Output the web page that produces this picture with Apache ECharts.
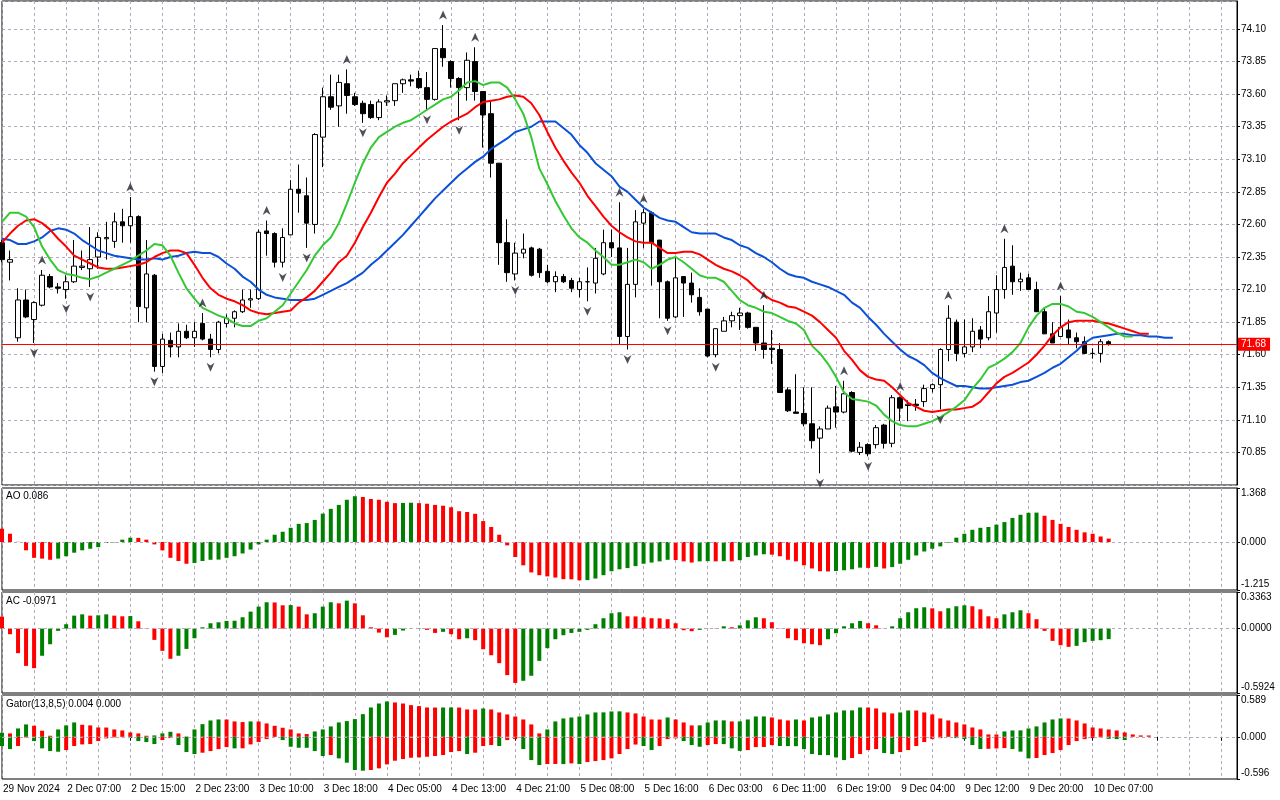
<!DOCTYPE html>
<html>
<head>
<meta charset="utf-8">
<script src="https://cdn.jsdelivr.net/npm/echarts/dist/echarts.min.js"></script>
<style>
html, body { margin: 0; padding: 0; background: #fff; }
#chart { width: 1280px; height: 800px; }
</style>
</head>
<body>
<div id="chart"></div>
<script>
var chartDom = document.getElementById('chart');
var myChart = echarts.init(chartDom);
var option;

// bottom time labels, one every 8 bars
var tickLabels = ['29 Nov 2024','2 Dec 07:00','2 Dec 15:00','2 Dec 23:00','3 Dec 10:00','3 Dec 18:00',
  '4 Dec 05:00','4 Dec 13:00','4 Dec 21:00','5 Dec 08:00','5 Dec 16:00','6 Dec 03:00','6 Dec 11:00',
  '6 Dec 19:00','9 Dec 04:00','9 Dec 12:00','9 Dec 20:00','10 Dec 07:00'];

// [open, close, low, high]
var candles = [
[72.46,72.33,72.31,72.48],[72.31,72.33,72.17,72.40],[71.73,72.02,71.70,72.11],[72.02,71.89,71.88,72.10],
[71.87,72.00,71.69,72.01],[71.98,72.21,71.97,72.25],[72.20,72.12,72.11,72.22],[72.12,72.11,72.07,72.15],
[72.10,72.16,72.03,72.21],[72.16,72.28,72.15,72.48],[72.27,72.28,72.25,72.40],[72.26,72.33,72.12,72.58],
[72.35,72.50,72.26,72.54],[72.49,72.50,72.33,72.62],[72.47,72.62,72.42,72.69],[72.62,72.59,72.46,72.72],
[72.59,72.66,72.46,72.81],[72.66,71.97,71.85,72.67],[71.96,72.22,71.85,72.48],[72.21,71.51,71.47,72.22],
[71.51,71.72,71.46,71.76],[71.71,71.66,71.58,71.77],[71.66,71.78,71.58,71.84],[71.78,71.73,71.72,71.83],
[71.73,71.78,71.66,71.85],[71.84,71.72,71.71,71.92],[71.72,71.64,71.58,71.76],[71.64,71.85,71.61,71.86],
[71.84,71.88,71.81,71.91],[71.88,71.93,71.81,71.94],[71.93,72.02,71.92,72.10],[72.02,72.03,71.96,72.10],
[72.03,72.54,72.02,72.56],[72.55,72.53,72.36,72.63],[72.53,72.31,72.27,72.54],[72.31,72.50,72.27,72.57],
[72.52,72.87,72.52,72.94],[72.87,72.84,72.69,73.06],[72.82,72.61,72.42,72.96],[72.60,73.29,72.53,73.30],
[73.27,73.58,73.04,73.65],[73.58,73.50,73.48,73.75],[73.51,73.69,73.35,73.75],[73.68,73.59,73.45,73.79],
[73.58,73.52,73.51,73.61],[73.53,73.45,73.38,73.55],[73.52,73.42,73.41,73.55],[73.42,73.54,73.40,73.56],
[73.54,73.55,73.51,73.59],[73.55,73.68,73.51,73.68],[73.68,73.71,73.61,73.72],[73.71,73.70,73.66,73.75],
[73.72,73.65,73.64,73.78],[73.65,73.56,73.48,73.77],[73.56,73.95,73.55,73.95],[73.95,73.88,73.81,74.13],
[73.85,73.72,73.65,73.86],[73.72,73.65,73.40,73.73],[73.65,73.86,73.55,73.92],[73.85,73.62,73.55,73.96],
[73.62,73.44,73.19,73.62],[73.45,73.07,72.96,73.55],[73.07,72.46,72.29,73.07],[72.46,72.23,72.16,72.64],
[72.22,72.38,72.17,72.46],[72.38,72.41,72.34,72.53],[72.42,72.21,72.20,72.43],[72.41,72.23,72.19,72.42],
[72.24,72.16,72.15,72.29],[72.16,72.20,72.08,72.24],[72.20,72.16,72.15,72.22],[72.17,72.11,72.08,72.19],
[72.10,72.16,72.04,72.19],[72.16,72.16,72.01,72.27],[72.15,72.34,72.07,72.42],[72.22,72.46,72.21,72.56],
[72.46,72.42,72.35,72.56],[72.42,71.74,71.68,72.77],[71.74,72.14,71.64,72.42],[72.14,72.62,72.04,72.71],
[72.61,72.69,72.42,72.72],[72.69,72.46,72.13,72.70],[72.48,72.16,71.88,72.48],[72.16,71.88,71.86,72.17],
[71.89,72.19,71.88,72.35],[72.20,72.15,71.89,72.20],[72.15,72.06,72.00,72.23],[72.04,71.93,71.90,72.11],
[71.95,71.59,71.58,71.95],[71.60,71.80,71.58,71.80],[71.78,71.86,71.78,71.89],[71.86,71.90,71.81,71.93],
[71.90,71.92,71.79,71.96],[71.92,71.81,71.80,71.93],[71.81,71.69,71.63,71.81],[71.69,71.64,71.57,71.98],
[71.65,71.64,71.53,71.79],[71.64,71.31,71.31,71.69],[71.33,71.17,71.16,71.35],[71.16,71.15,71.15,71.45],
[71.15,71.07,71.05,71.35],[71.07,70.94,70.88,71.35],[70.96,71.03,70.69,71.05],[71.03,71.19,71.03,71.21],
[71.20,71.16,71.04,71.36],[71.16,71.30,71.15,71.40],[71.31,70.86,70.85,71.32],[70.85,70.89,70.83,70.93],
[70.91,70.84,70.82,70.92],[70.91,71.04,70.88,71.06],[71.06,70.92,70.88,71.07],[70.92,71.27,70.89,71.29],
[71.27,71.19,71.09,71.28],[71.21,71.22,71.09,71.25],[71.22,71.21,71.17,71.26],[71.24,71.34,71.20,71.37],
[71.34,71.37,71.31,71.38],[71.37,71.64,71.18,71.65],[71.64,71.88,71.55,71.98],[71.85,71.61,71.55,71.87],
[71.61,71.66,71.58,71.87],[71.66,71.78,71.62,71.88],[71.79,71.72,71.65,71.82],[71.73,71.93,71.71,72.05],
[71.92,72.10,71.77,72.21],[72.10,72.27,72.03,72.49],[72.28,72.16,72.06,72.44],[72.16,72.18,72.09,72.23],
[72.19,72.10,72.10,72.22],[72.10,71.93,71.93,72.16],[71.93,71.76,71.76,71.96],[71.76,71.69,71.69,71.85],
[71.74,71.81,71.74,72.05],[71.79,71.73,71.68,71.87],[71.73,71.70,71.65,71.77],[71.70,71.61,71.61,71.74],
[71.61,71.61,71.57,71.65],[71.61,71.70,71.54,71.72],[71.70,71.68,71.67,71.71]
];
var lastPrice = 71.68;

// alligator lines (already shifted forward as drawn)
var jaw = [72.49,72.48,72.45,72.45,72.47,72.50,72.55,72.57,72.56,72.53,
72.48,72.44,72.40,72.38,72.36,72.35,72.34,72.33,72.33,72.34,
72.33,72.35,72.36,72.38,72.39,72.38,72.38,72.35,72.30,72.26,
72.20,72.16,72.10,72.06,72.04,72.03,72.02,72.02,72.02,72.03,
72.06,72.09,72.12,72.15,72.19,72.23,72.29,72.34,72.40,72.46,
72.52,72.59,72.66,72.73,72.80,72.86,72.92,72.98,73.03,73.08,
73.12,73.18,73.22,73.26,73.31,73.33,73.35,73.39,73.39,73.39,
73.34,73.29,73.21,73.15,73.07,73.02,72.97,72.89,72.85,72.79,
72.73,72.69,72.65,72.63,72.62,72.58,72.54,72.53,72.53,72.53,
72.50,72.48,72.44,72.42,72.38,72.35,72.31,72.26,72.22,72.20,
72.19,72.16,72.14,72.12,72.09,72.06,72.00,71.96,71.89,71.83,
71.76,71.70,71.64,71.59,71.56,71.52,71.46,71.42,71.39,71.36,
71.36,71.35,71.34,71.34,71.35,71.36,71.37,71.39,71.40,71.43,
71.46,71.50,71.53,71.58,71.63,71.69,71.73,71.74,71.75,71.76,
71.76,71.75,71.75,71.74,71.74,71.73,71.73];
var teeth = [72.46,72.53,72.59,72.63,72.64,72.61,72.56,72.49,72.43,72.36,
72.33,72.30,72.27,72.26,72.26,72.27,72.28,72.29,72.31,72.35,
72.38,72.40,72.40,72.38,72.29,72.19,72.11,72.06,72.03,72.01,
71.98,71.94,71.92,71.91,71.92,71.93,71.94,72.00,72.04,72.09,
72.16,72.23,72.31,72.36,72.46,72.58,72.69,72.81,72.92,72.99,
73.07,73.13,73.19,73.25,73.30,73.35,73.39,73.42,73.45,73.50,
73.54,73.55,73.56,73.58,73.59,73.58,73.53,73.44,73.31,73.19,
73.09,73.00,72.92,72.82,72.74,72.66,72.59,72.54,72.50,72.47,
72.46,72.46,72.42,72.38,72.38,72.39,72.39,72.37,72.33,72.29,
72.26,72.24,72.21,72.17,72.11,72.06,72.02,72.00,71.97,71.96,
71.93,71.90,71.85,71.79,71.73,71.63,71.56,71.48,71.43,71.41,
71.40,71.35,71.29,71.23,71.20,71.17,71.16,71.17,71.18,71.18,
71.19,71.20,71.24,71.31,71.38,71.43,71.46,71.50,71.54,71.60,
71.67,71.75,71.81,71.85,71.86,71.86,71.86,71.85,71.84,71.82,
71.80,71.78,71.76,71.76];
var lips = [72.62,72.69,72.69,72.66,72.58,72.43,72.33,72.25,72.22,72.21,
72.19,72.18,72.20,72.23,72.26,72.29,72.32,72.36,72.40,72.45,
72.44,72.36,72.23,72.11,72.03,71.96,71.93,71.90,71.88,71.84,
71.82,71.82,71.86,71.88,71.93,71.98,72.07,72.16,72.25,72.36,
72.44,72.50,72.61,72.76,72.92,73.07,73.19,73.27,73.31,73.35,
73.38,73.40,73.44,73.48,73.52,73.56,73.58,73.63,73.69,73.70,
73.67,73.69,73.69,73.65,73.56,73.45,73.27,73.03,72.91,72.78,
72.67,72.57,72.50,72.46,72.40,72.35,72.29,72.29,72.31,72.33,
72.31,72.26,72.29,72.33,72.35,72.31,72.26,72.21,72.19,72.19,
72.16,72.09,72.02,71.98,71.96,71.93,71.92,71.89,71.86,71.84,
71.79,71.67,71.61,71.53,71.43,71.31,71.26,71.25,71.24,71.21,
71.14,71.09,71.06,71.05,71.05,71.07,71.09,71.12,71.16,71.20,
71.25,71.34,71.41,71.50,71.53,71.57,71.62,71.69,71.81,71.90,
71.96,71.99,71.99,71.97,71.93,71.92,71.89,71.85,71.81,71.77,
71.74,71.74];

// fractal bars (index into candles)
var fractalUp = [5,16,25,33,43,55,59,77,80,95,105,112,118,125,132];
var fractalDown = [4,8,11,19,26,35,38,45,53,57,64,73,78,83,89,102,108,117];

var aoValues = [0.337,0.21,0.005,-0.21,-0.40,-0.42,-0.45,-0.42,-0.36,-0.27,
-0.21,-0.17,-0.13,-0.025,-0.01,0.06,0.11,0.105,0.06,-0.06,
-0.21,-0.40,-0.48,-0.55,-0.53,-0.48,-0.45,-0.445,-0.40,-0.36,
-0.29,-0.19,-0.06,0.06,0.185,0.26,0.36,0.46,0.48,0.56,
0.72,0.84,0.94,1.07,1.16,1.14,1.09,1.07,1.02,0.985,
0.99,0.995,0.985,0.97,0.94,0.92,0.88,0.78,0.76,0.715,
0.53,0.38,0.185,-0.085,-0.38,-0.59,-0.77,-0.84,-0.87,-0.90,
-0.94,-0.945,-0.97,-0.965,-0.925,-0.84,-0.74,-0.69,-0.66,-0.61,
-0.55,-0.52,-0.49,-0.45,-0.455,-0.49,-0.52,-0.49,-0.485,-0.49,
-0.485,-0.49,-0.46,-0.38,-0.34,-0.31,-0.32,-0.36,-0.45,-0.49,
-0.59,-0.67,-0.74,-0.745,-0.735,-0.715,-0.69,-0.65,-0.655,-0.63,
-0.67,-0.635,-0.55,-0.45,-0.34,-0.24,-0.17,-0.11,-0.015,0.11,
0.21,0.31,0.36,0.38,0.44,0.505,0.61,0.69,0.74,0.745,
0.665,0.56,0.46,0.38,0.31,0.245,0.21,0.14,0.086];

var acValues = [0.11,-0.052,-0.226,-0.343,-0.364,-0.25,-0.144,-0.021,0.04,0.119,
0.131,0.119,0.122,0.131,0.119,0.113,0.115,0.067,-0.003,-0.104,
-0.205,-0.278,-0.25,-0.187,-0.089,0.012,0.049,0.058,0.07,0.072,
0.104,0.156,0.202,0.242,0.24,0.214,0.216,0.202,0.131,0.141,
0.202,0.242,0.232,0.257,0.232,0.122,0.012,-0.037,-0.08,-0.058,
-0.018,-0.003,0.003,-0.012,-0.04,-0.03,-0.052,-0.098,-0.089,-0.107,
-0.19,-0.245,-0.318,-0.428,-0.50,-0.48,-0.434,-0.297,-0.18,-0.098,
-0.061,-0.04,-0.03,-0.012,0.04,0.095,0.141,0.15,0.113,0.112,
0.104,0.095,0.094,0.086,0.049,-0.015,-0.024,-0.012,0.001,-0.003,
0.021,0.012,0.03,0.076,0.104,0.095,0.058,-0.002,-0.089,-0.107,
-0.135,-0.144,-0.153,-0.098,-0.043,0.021,0.049,0.07,0.049,0.03,
0.002,0.021,0.095,0.15,0.187,0.196,0.186,0.159,0.187,0.205,
0.214,0.205,0.177,0.113,0.095,0.131,0.15,0.168,0.141,0.086,
-0.021,-0.113,-0.153,-0.168,-0.159,-0.125,-0.113,-0.107,-0.097];

var gatorUp = [0.056,0.047,0.117,0.174,0.155,0.085,0.014,0.103,0.16,0.202,
0.169,0.16,0.131,0.13,0.103,0.089,0.061,0.047,0.014,0.019,
0.047,0.07,0.047,0.003,0.103,0.178,0.23,0.244,0.243,0.216,
0.207,0.216,0.215,0.188,0.155,0.127,0.103,0.047,0.038,0.075,
0.103,0.146,0.202,0.221,0.249,0.319,0.413,0.469,0.498,0.484,
0.469,0.446,0.432,0.413,0.412,0.413,0.414,0.412,0.385,0.384,
0.399,0.385,0.343,0.315,0.286,0.244,0.174,0.047,0.103,0.216,
0.258,0.272,0.286,0.315,0.343,0.344,0.357,0.358,0.343,0.329,
0.286,0.244,0.243,0.272,0.244,0.202,0.16,0.161,0.202,0.23,
0.231,0.216,0.217,0.244,0.286,0.287,0.272,0.244,0.23,0.244,
0.23,0.272,0.286,0.315,0.343,0.371,0.372,0.413,0.412,0.399,
0.343,0.329,0.343,0.371,0.37,0.343,0.315,0.258,0.23,0.202,
0.174,0.131,0.103,0.033,0.032,0.075,0.089,0.09,0.117,0.146,
0.202,0.244,0.258,0.257,0.23,0.188,0.131,0.117,0.103,0.089,
0.061,0.033,0.019,0.018];

var gatorDown = [-0.131,-0.174,-0.131,-0.01,-0.061,-0.164,-0.202,-0.211,-0.188,-0.131,
-0.108,-0.103,-0.061,-0.023,-0.009,-0.005,-0.019,-0.061,-0.075,-0.103,
-0.047,-0.019,-0.117,-0.216,-0.244,-0.225,-0.202,-0.174,-0.146,-0.164,
-0.163,-0.108,-0.075,-0.033,-0.003,-0.047,-0.141,-0.155,-0.156,-0.202,
-0.272,-0.258,-0.305,-0.366,-0.469,-0.479,-0.469,-0.446,-0.39,-0.338,
-0.315,-0.296,-0.291,-0.282,-0.272,-0.258,-0.216,-0.202,-0.244,-0.225,
-0.131,-0.117,-0.131,-0.047,-0.033,-0.174,-0.329,-0.399,-0.385,-0.384,
-0.386,-0.376,-0.385,-0.357,-0.343,-0.329,-0.305,-0.244,-0.174,-0.11,
-0.131,-0.188,-0.131,-0.033,-0.023,-0.061,-0.117,-0.141,-0.117,-0.103,
-0.104,-0.164,-0.2,-0.188,-0.146,-0.145,-0.117,-0.131,-0.132,-0.133,
-0.174,-0.244,-0.258,-0.259,-0.291,-0.329,-0.3,-0.244,-0.188,-0.174,
-0.23,-0.244,-0.216,-0.188,-0.131,-0.075,-0.033,-0.019,-0.004,-0.019,
-0.033,-0.117,-0.174,-0.17,-0.165,-0.16,-0.174,-0.21,-0.305,-0.3,
-0.258,-0.23,-0.188,-0.117,-0.061,-0.033,-0.019,-0.009,-0.03,-0.033,
-0.047];

var GREEN = '#008000', RED = '#ff0000';
var GRIDCOL = '#b4a8bc';
var FONT = "'Liberation Sans', Arial, sans-serif";
var FS = 10;
var NCAT = 155;

var cats = [];
for (var i = 0; i < NCAT; i++) {
  cats.push(i % 8 === 0 && tickLabels[i / 8] ? tickLabels[i / 8] : '');
}

// colour each bar against the previous one (MT5 style)
function colorBars(arr, useAbs, firstColor) {
  var out = [];
  for (var i = 0; i < arr.length; i++) {
    var c = firstColor;
    if (i > 0) {
      var a = useAbs ? Math.abs(arr[i]) : arr[i];
      var b = useAbs ? Math.abs(arr[i - 1]) : arr[i - 1];
      c = a > b ? GREEN : RED;
    }
    out.push({ value: arr[i], itemStyle: { color: c } });
  }
  return out;
}

var upData = fractalUp.map(function (k) { return [k, candles[k][3]]; });
var downData = fractalDown.map(function (k) { return [k, candles[k][2]]; });

var grids = [
  { left: 2, right: 43, top: 1, height: 484 },
  { left: 2, right: 43, top: 488, height: 102 },
  { left: 2, right: 43, top: 592, height: 101 },
  { left: 2, right: 43, top: 695, height: 84 }
].map(function (g) {
  g.show = true; g.borderColor = '#000'; g.borderWidth = 1; g.backgroundColor = 'transparent';
  return g;
});

function xAx(idx) {
  var last = idx === 3;
  return {
    type: 'category', gridIndex: idx, data: cats, boundaryGap: false,
    axisLine: { show: false },
    axisTick: { show: last, interval: 7, length: 4, lineStyle: { color: '#000' } },
    axisLabel: {
      show: last, interval: 7, align: 'left', margin: 5, padding: [0, 0, 0, 1],
      fontSize: FS, fontFamily: FONT, color: '#000'
    },
    splitLine: { show: true, interval: 3, lineStyle: { color: GRIDCOL, type: [3, 3], width: 1 } }
  };
}

function subY(idx, min, max, minTxt, maxTxt, zeroTxt) {
  return {
    type: 'value', gridIndex: idx, position: 'right', min: min, max: max,
    axisLine: { show: true, lineStyle: { color: '#000' } },
    axisTick: { show: true, length: 3, customValues: [min, 0, max], lineStyle: { color: '#000' } },
    axisLabel: {
      customValues: [min, 0, max], margin: 4, fontSize: FS, fontFamily: FONT, color: '#000',
      formatter: function (v) {
        if (v === max) return '{t|' + maxTxt + '}';
        if (v === min) return '{b|' + minTxt + '}';
        return zeroTxt;
      },
      rich: {
        t: { padding: [11, 0, 0, 0], fontSize: FS, fontFamily: FONT, color: '#000' },
        b: { padding: [0, 0, 11, 0], fontSize: FS, fontFamily: FONT, color: '#000' }
      }
    },
    splitLine: { show: false }
  };
}

var zeroLine = {
  silent: true, symbol: ['none', 'none'], label: { show: false },
  lineStyle: { color: GRIDCOL, type: [3, 3], width: 1 },
  data: [{ yAxis: 0 }]
};

function paneTitle(text, top) {
  return {
    text: text, left: 6, top: top, padding: 0,
    textStyle: { fontSize: FS, fontWeight: 'normal', fontFamily: FONT, color: '#000' }
  };
}

option = {
  animation: false,
  backgroundColor: '#fff',
  title: [
    paneTitle('AO 0.086', 491),
    paneTitle('AC -0.0971', 596),
    paneTitle('Gator(13,8,5) 0.004 0.000', 699)
  ],
  grid: grids,
  xAxis: [xAx(0), xAx(1), xAx(2), xAx(3)],
  yAxis: [
    {
      type: 'value', gridIndex: 0, position: 'right', min: 70.60, max: 74.315, interval: 0.25,
      axisLine: { show: true, lineStyle: { color: '#000' } },
      axisTick: { show: true, length: 3, lineStyle: { color: '#000' } },
      axisLabel: {
        showMinLabel: false, showMaxLabel: false, margin: 4,
        fontSize: FS, fontFamily: FONT, color: '#000',
        formatter: function (v) { return v.toFixed(2); }
      },
      splitLine: { show: true, lineStyle: { color: GRIDCOL, type: [3, 3], width: 1 } }
    },
    subY(1, -1.215, 1.368, '-1.215', '1.368', '0.000'),
    subY(2, -0.5924, 0.3363, '-0.5924', '0.3363', '0.0000'),
    subY(3, -0.596, 0.589, '-0.596', '0.589', '0.000')
  ],
  series: [
    {
      type: 'candlestick', xAxisIndex: 0, yAxisIndex: 0, data: candles, barWidth: 5,
      itemStyle: { color: '#fff', color0: '#000', borderColor: '#000', borderColor0: '#000', borderWidth: 1 },
      markLine: {
        silent: true, symbol: ['none', 'none'],
        lineStyle: { color: RED, type: 'solid', width: 1 },
        label: {
          show: true, position: 'end', distance: 1, formatter: lastPrice.toFixed(2),
          backgroundColor: RED, color: '#fff', padding: [2, 4, 1, 3],
          fontSize: FS, fontFamily: FONT
        },
        data: [{ yAxis: lastPrice }]
      },
      z: 3
    },
    { name: 'Jaw', type: 'line', xAxisIndex: 0, yAxisIndex: 0, data: jaw, symbol: 'none',
      lineStyle: { color: '#0a50d8', width: 2 }, z: 4 },
    { name: 'Teeth', type: 'line', xAxisIndex: 0, yAxisIndex: 0, data: teeth, symbol: 'none',
      lineStyle: { color: '#ff0000', width: 2 }, z: 4 },
    { name: 'Lips', type: 'line', xAxisIndex: 0, yAxisIndex: 0, data: lips, symbol: 'none',
      lineStyle: { color: '#34c834', width: 2 }, z: 4 },
    { type: 'scatter', xAxisIndex: 0, yAxisIndex: 0, data: upData,
      symbol: 'path://M5,0 L10,10 L5,7 L0,10 Z', symbolSize: [8, 9], symbolOffset: [0, -10],
      itemStyle: { color: '#23232f' }, z: 5 },
    { type: 'scatter', xAxisIndex: 0, yAxisIndex: 0, data: downData,
      symbol: 'path://M0,0 L5,3 L10,0 L5,10 Z', symbolSize: [8, 9], symbolOffset: [0, 10],
      itemStyle: { color: '#23232f' }, z: 5 },
    { type: 'bar', xAxisIndex: 1, yAxisIndex: 1, data: colorBars(aoValues, false, RED),
      barWidth: 4, markLine: zeroLine },
    { type: 'bar', xAxisIndex: 2, yAxisIndex: 2, data: colorBars(acValues, false, RED),
      barWidth: 4, markLine: zeroLine },
    { type: 'bar', xAxisIndex: 3, yAxisIndex: 3, stack: 'gator', data: colorBars(gatorUp, true, GREEN),
      barWidth: 4, markLine: zeroLine },
    { type: 'bar', xAxisIndex: 3, yAxisIndex: 3, stack: 'gator', data: colorBars(gatorDown, true, GREEN),
      barWidth: 4 }
  ]
};

option && myChart.setOption(option);
</script>
</body>
</html>
